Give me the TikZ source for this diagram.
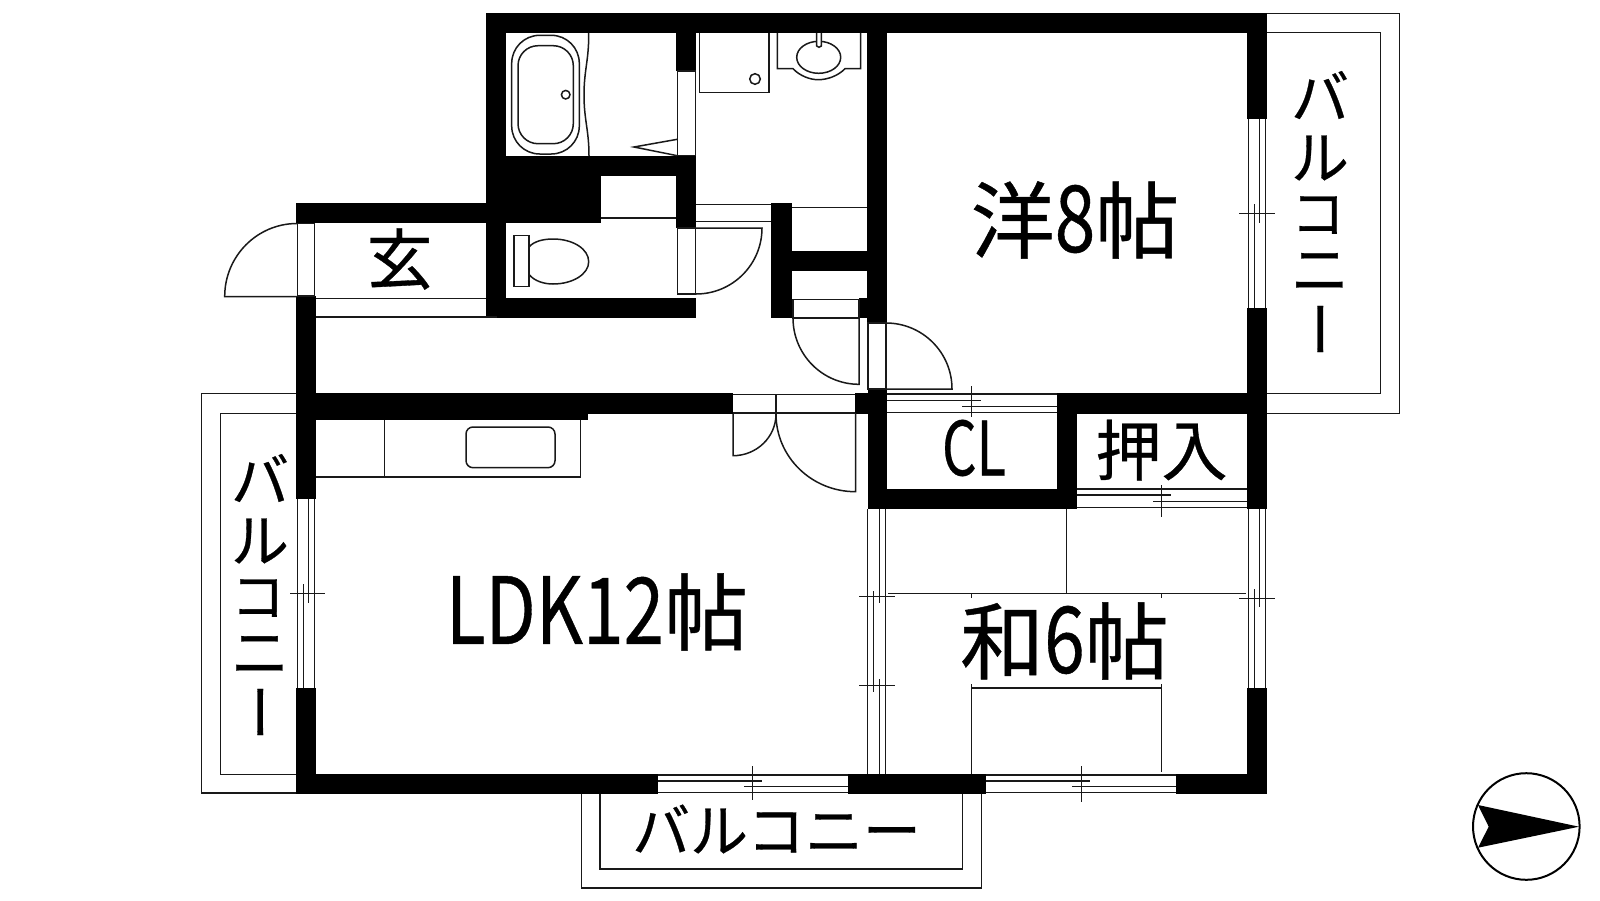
\documentclass[tikz,border=0pt]{standalone}
\usepackage{fontspec}
\newfontfamily\jp[FakeBold=0.5]{Noto Sans CJK JP}
\newcommand{\tall}[1]{\scalebox{.87}[1.1]{#1}}
\tikzset{
  wall/.style={fill=black,draw=none},
  ln/.style={draw=black!90,line width=1.5pt,line cap=butt,line join=miter},
  big/.style={inner sep=0pt,outer sep=0pt,anchor=center,font=\jp\fontsize{84}{84}\selectfont},
  mid/.style={inner sep=0pt,outer sep=0pt,anchor=center,font=\jp\fontsize{66}{66}\selectfont},
  bal/.style={inner sep=0pt,outer sep=0pt,anchor=center,font=\jp\fontsize{58}{58}\selectfont},
  balsmall/.style={inner sep=0pt,outer sep=0pt,anchor=center,font=\jp\fontsize{54}{54}\selectfont}
}
\begin{document}
\begin{tikzpicture}[x=1pt,y=-1pt]
\useasboundingbox (0,0) rectangle (1600,900);
\fill[white] (0,0) rectangle (1600,900);
% balconies
\draw[ln] (1267,13.3) -| (1399.5,413.7) -- (1267,413.7);
\draw[ln] (1267,32.7) -| (1380.5,393.3) -- (1267,393.3);
\draw[ln] (296,393.5) -| (201.7,793) -- (316,793);
\draw[ln] (296,413.7) -| (220.7,774.3) -- (296,774.3);
\draw[ln] (581.7,794) |- (981.7,888) -- (981.7,794);
\draw[ln] (600,794) |- (962.7,869) -- (962.7,794);
% walls
\fill[wall] (486,13) rectangle (1267,33);
\fill[wall] (486,13) rectangle (506,318);
\fill[wall] (676,33) rectangle (696,71);
\fill[wall] (486,156) rectangle (696,176);
\fill[wall] (486,156) rectangle (601,223);
\fill[wall] (676,156) rectangle (696,228);
\fill[wall] (296,203) rectangle (486,223);
\fill[wall] (486,298) rectangle (696,318);
\fill[wall] (771,203) rectangle (792,318);
\fill[wall] (792,251) rectangle (867,271);
\fill[wall] (867,33) rectangle (887,323);
\fill[wall] (859,298) rectangle (887,318);
\fill[wall] (296,296) rectangle (316,499);
\fill[wall] (296,393) rectangle (733,413.7);
\fill[wall] (316,393) rectangle (588,420);
\fill[wall] (855,393) rectangle (887,413.7);
\fill[wall] (867.5,389) rectangle (887,509);
\fill[wall] (867.5,489) rectangle (1077,509);
\fill[wall] (1057,393) rectangle (1267,413.7);
\fill[wall] (1057,393) rectangle (1077,509);
\fill[wall] (1247,13) rectangle (1267,119);
\fill[wall] (1247,308) rectangle (1267,509);
\fill[wall] (1247,688) rectangle (1267,794);
\fill[wall] (296,688) rectangle (316,794);
\fill[wall] (296,774) rectangle (658,794);
\fill[wall] (848,774) rectangle (986,794);
\fill[wall] (1176,774) rectangle (1267,794);
% bath
\draw[ln,rounded corners=28pt] (511.7,35.3) rectangle (579.3,154);
\draw[ln,rounded corners=20pt] (518,45.7) rectangle (573.3,143.7);
\draw[ln] (565.7,94.7) circle (4.3);
\draw[ln] (588.7,33) .. controls (589,60) and (584,70) .. (584,95) .. controls (584,120) and (589,130) .. (589,156);
\draw[ln] (677.3,139.3) -- (634,147) -- (677.3,155.7);
\draw[ln] (677.5,71) rectangle (695.5,155.7);
% washroom
\draw[ln] (699.3,33) |- (769,92.3) -- (769,33);
\draw[ln] (755,79) circle (5.3);
\draw[ln] (777.3,33) |- (793,68.7) .. controls (800,76) and (810,79.7) .. (818.3,79.7) .. controls (827,79.7) and (838,76) .. (845,68.7) -| (860.7,33);
\draw[ln] (818.7,57.3) ellipse [x radius=22,y radius=16];
\draw[ln,fill=white] (816.7,33) -- (816.7,46) -- (819,47.3) -- (821.3,46) -- (821.3,33);
% toilet room
\draw[ln] (601,218) -- (676,218);
\draw[ln] (514,235.3) rectangle (529,286.7);
\draw[ln] (529,247) .. controls (534,241) and (544,239) .. (553,239) .. controls (573,239) and (588.7,249) .. (588.7,261.7) .. controls (588.7,274) and (573,284) .. (553,284) .. controls (544,284) and (534,281) .. (529,274.3);
\draw[ln] (677.5,228) rectangle (695.5,294);
\draw[ln] (696,228) -- (762,228) .. controls (762,264.5) and (732.5,294) .. (696,294);
\draw[ln] (696,204.3) -- (771,204.3) (696,221.7) -- (771,221.7);
\draw[ln] (792,207.5) -- (867,207.5);
% entrance
\draw[ln] (297.7,223.5) rectangle (314.5,296);
\draw[ln] (297,223.5) .. controls (257.1,223.5) and (224.7,256.2) .. (224.7,296.5) -- (297,296.5);
\draw[ln] (316,298.3) -- (486,298.3) (316,317) -- (497,317);
% doors by the closets
\draw[ln] (793,299.5) rectangle (859,318);
\draw[ln] (793,318) .. controls (793,354.6) and (822.5,384.3) .. (859,384.3) -- (859,318);
\draw[ln] (868,323) rectangle (886,389);
\draw[ln] (886,323) .. controls (922.5,323) and (952,352.5) .. (952,389) -- (886,389);
% LDK double door
\draw[ln] (733,394.3) -- (855,394.3) (733,413) -- (855,413);
\draw[ln] (776,394) -- (776,414);
\draw[ln] (733,414) -- (733,455.7) .. controls (756.7,455.7) and (776,437) .. (776,414);
\draw[ln] (855.6,413) -- (855.6,491.7) .. controls (811.6,491.7) and (776,457) .. (776,414);
% kitchen
\draw[ln] (316,477) -| (580.7,420);
\draw[ln] (384.7,420) -- (384.7,477);
\draw[ln,rounded corners=7pt] (466,427) rectangle (555,467.7);
% sliding windows, horizontal
\draw[ln] (887,394) -- (1057,394) (887,400.3) -- (981,400.3) (962,406.7) -- (1057,406.7) (887,412.7) -- (1057,412.7) (971.4,386) -- (971.4,417.3);
\draw[ln] (1077,489) -- (1247,489) (1077,495) -- (1171,495) (1153,501.3) -- (1247,501.3) (1077,507.3) -- (1247,507.3) (1161.7,485) -- (1161.7,516.7);
\draw[ln] (658,775) -- (848,775) (658,781) -- (762,781) (744,786.3) -- (848,786.3) (658,792.5) -- (848,792.5) (752.7,766) -- (752.7,800);
\draw[ln] (986,775) -- (1176,775) (986,781) -- (1090,781) (1072,786.5) -- (1176,786.5) (986,792.5) -- (1176,792.5) (1081.7,766) -- (1081.7,802);
% sliding windows, vertical
\draw[ln] (1248.3,119) -- (1248.3,308) (1265.3,119) -- (1265.3,308) (1259.3,119) -- (1259.3,222.7) (1254.5,204) -- (1254.5,308) (1239,213.3) -- (1274.7,213.3);
\draw[ln] (1248.3,509) -- (1248.3,688) (1265.3,509) -- (1265.3,688) (1259.3,509) -- (1259.3,607.3) (1254.3,589) -- (1254.3,688) (1239,598.3) -- (1275,598.3);
\draw[ln] (297.5,499) -- (297.5,688) (314.7,499) -- (314.7,688) (308.7,499) -- (308.7,603) (303.3,584) -- (303.3,688) (290,593.7) -- (325,593.7);
\draw[ln] (867.7,509) -- (867.7,774) (885.3,509) -- (885.3,774) (879.7,509) -- (879.7,603) (873.7,591) -- (873.7,691.7) (879.7,679) -- (879.7,774) (859,596.3) -- (894.7,596.3) (859,685.7) -- (894.7,685.7);
% tatami
\draw[ln] (888,593.3) -- (1246,593.3) (1066.3,509) -- (1066.3,593.3) (971.7,593.3) -- (971.7,598) (1161.7,593.3) -- (1161.7,598);
\draw[ln] (971.7,774) -- (971.7,684) (971.7,688) -- (1161.7,688) (1161.7,684) -- (1161.7,772);
% north mark
\draw[black,line width=2pt] (1526.3,826.5) circle (53.3);
\fill[black] (1579,826.7) -- (1478,805) -- (1488.7,826.7) -- (1478,847.7) -- cycle;
% labels
\node[big] (yo) at (1075,220) {洋\tall{8}帖};
\node[big] (wa) at (1064.5,641) {和\tall{6}帖};
\node[big] (ldk) at (597,612) {\tall{LDK12}帖};
\node[mid] (gen) at (399.5,259) {玄};
\node[mid] (cl) at (974,448) {\scalebox{.82}[1.13]{CL}};
\node[mid] (oshi) at (1161.5,450) {押入};
\node[bal] (r1) at (1320,95) {バ};
\node[bal] (r2) at (1320,158) {ル};
\node[balsmall] (r3) at (1318,215) {コ};
\node[bal] (r4) at (1320,272) {ニ};
\node[bal,rotate=90] (r5) at (1330,329) {ー};
\node[bal] (l1) at (260,478) {バ};
\node[bal] (l2) at (260,541) {ル};
\node[balsmall] (l3) at (258,598) {コ};
\node[bal] (l4) at (260,655) {ニ};
\node[bal,rotate=90] (l5) at (270,712) {ー};
\node[bal] (b1) at (776.5,829) {バルコニー};
\end{tikzpicture}
\end{document}
